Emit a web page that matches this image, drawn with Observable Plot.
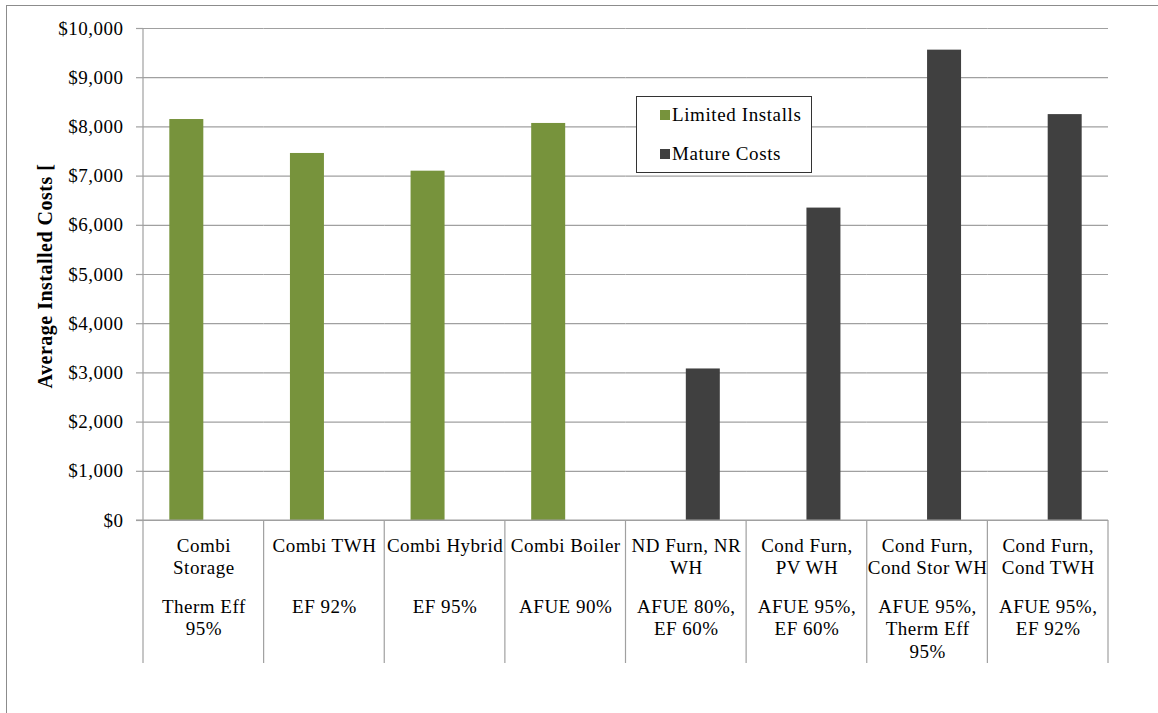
<!DOCTYPE html>
<html>
<head>
<meta charset="utf-8">
<script src="https://cdn.jsdelivr.net/npm/d3@7"></script>
<script src="https://cdn.jsdelivr.net/npm/@observablehq/plot@0.6"></script>
<style>
  html, body { margin: 0; padding: 0; background: #fff; }
  #wrap { position: relative; width: 1158px; height: 713px; overflow: hidden; font-family: "Liberation Serif", "Times New Roman", serif; }
  #wrap svg { position: absolute; left: 0; top: 0; font-family: "Liberation Serif", "Times New Roman", serif !important; letter-spacing: 0.5px; }
  #border { position: absolute; left: 6px; top: 5px; right: -2px; bottom: -2px; border-top: 1px solid #8c8c8c; border-left: 1px solid #8c8c8c; pointer-events: none; }
  #legend { position: absolute; left: 636px; top: 96px; width: 176px; height: 77px; border: 1px solid #333; background: #fff; box-sizing: border-box; font-size: 19px; letter-spacing: 0.6px; color: #000; }
  #legend .item { position: absolute; left: 23px; display: flex; align-items: center; white-space: nowrap; }
  #legend .sw { width: 10px; height: 10px; margin-right: 2px; }
</style>
</head>
<body>
<div id="wrap"><div id="border"></div></div>
<script>
// Technology packages along the x axis
const categories = [
  "Combi Storage", "Combi TWH", "Combi Hybrid", "Combi Boiler",
  "ND Furn, NR WH", "Cond Furn, PV WH", "Cond Furn, Cond Stor WH", "Cond Furn, Cond TWH"
];
// Category labels as printed (two blocks: name, efficiency rating)
const nameLabels = [
  "Combi\nStorage", "Combi TWH", "Combi Hybrid", "Combi Boiler",
  "ND Furn, NR\nWH", "Cond Furn,\nPV WH", "Cond Furn,\nCond Stor WH", "Cond Furn,\nCond TWH"
];
const effLabels = [
  "Therm Eff\n95%", "EF 92%", "EF 95%", "AFUE 90%",
  "AFUE 80%,\nEF 60%", "AFUE 95%,\nEF 60%", "AFUE 95%,\nTherm Eff\n95%", "AFUE 95%,\nEF 92%"
];
// Series
const series = ["Limited Installs", "Mature Costs"];
const seriesColors = ["#77933c", "#404040"];
// Average installed cost ($) per category, null where the series has no value
const limitedInstalls = [8150, 7460, 7100, 8070, null, null, null, null];
const matureCosts = [null, null, null, null, 3080, 6350, 9560, 8250];
// Y axis ticks
const yTicks = [0, 1000, 2000, 3000, 4000, 5000, 6000, 7000, 8000, 9000, 10000];

const rows = [];
categories.forEach((c, i) => {
  if (limitedInstalls[i] != null) rows.push({cat: c, series: series[0], value: limitedInstalls[i]});
  if (matureCosts[i] != null) rows.push({cat: c, series: series[1], value: matureCosts[i]});
});
const labelRows = categories.map((c, i) => ({cat: c, name: nameLabels[i], eff: effLabels[i]}));

const font = "Liberation Serif";
const grid = "#a0a0a0";
const fs = 19;

const plot = Plot.plot({
  width: 1158,
  height: 713,
  marginLeft: 143,
  marginRight: 50,
  marginTop: 28,
  marginBottom: 193,
  style: {fontFamily: font, fontSize: fs + "px", color: "#000", background: "transparent"},
  fx: {domain: categories, padding: 0, round: false, axis: null, label: null},
  x: {domain: series, paddingInner: 0, paddingOuter: 0.774, round: false, axis: null, label: null},
  y: {domain: [0, 10000], axis: null, label: null},
  color: {domain: series, range: seriesColors},
  marks: [
    Plot.gridY(yTicks, {stroke: grid, strokeOpacity: 1, strokeWidth: 1.2}),
    Plot.barY(rows, {fx: "cat", x: "series", y: "value", fill: "series"}),
    Plot.axisY(yTicks, {
      anchor: "left",
      tickSize: 7,
      tickPadding: 13,
      stroke: grid,
      strokeWidth: 1.2,
      fontSize: fs,
      fontFamily: font,
      tickFormat: d => "$" + d3.format(",")(d),
      label: null
    }),
    Plot.text(labelRows, {fx: "cat", text: "name", frameAnchor: "bottom", lineAnchor: "top", dy: 15, lineHeight: 1.2, fontSize: fs, fontFamily: font, fill: "#000"}),
    Plot.text(labelRows, {fx: "cat", text: "eff", frameAnchor: "bottom", lineAnchor: "top", dy: 76, lineHeight: 1.2, fontSize: fs, fontFamily: font, fill: "#000"})
  ]
});

// Category dividers below the baseline and the vertical value axis line
const fxs = plot.scale("fx");
const ys = plot.scale("y");
const edges = categories.map(c => fxs.apply(c));
edges.push(fxs.apply(categories[categories.length - 1]) + fxs.bandwidth);
const y0 = ys.apply(0), yTop = ys.apply(10000);
const svg = d3.select(plot);
const g = svg.append("g").attr("stroke", grid).attr("stroke-width", 1.2);
edges.forEach((x, i) => {
  g.append("line").attr("x1", x).attr("x2", x)
    .attr("y1", i === 0 ? yTop : y0).attr("y2", y0 + 143);
});
g.append("line").attr("x1", edges[0] - 7).attr("x2", edges[edges.length - 1]).attr("y1", y0).attr("y2", y0);

// Value axis title
svg.append("text")
  .attr("transform", `translate(45,${(y0 + yTop) / 2 + 2}) rotate(-90)`)
  .attr("text-anchor", "middle")
  .attr("dominant-baseline", "central")
  .attr("font-family", font)
  .attr("font-weight", "bold")
  .attr("font-size", 20)
  .attr("fill", "#000")
  .text("Average Installed Costs [");

const wrap = document.getElementById("wrap");
wrap.insertBefore(plot, wrap.firstChild);

// Legend box inside the plot area
const legend = document.createElement("div");
legend.id = "legend";
series.forEach((s, i) => {
  const item = document.createElement("div");
  item.className = "item";
  item.style.top = (i === 0 ? 7 : 46) + "px";
  const sw = document.createElement("span");
  sw.className = "sw";
  sw.style.background = seriesColors[i];
  const tx = document.createElement("span");
  tx.textContent = s;
  item.appendChild(sw);
  item.appendChild(tx);
  legend.appendChild(item);
});
wrap.appendChild(legend);
</script>
</body>
</html>
